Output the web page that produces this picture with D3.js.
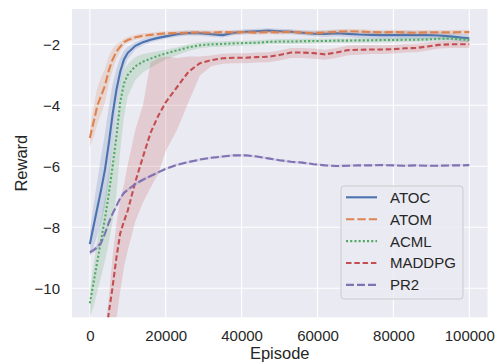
<!DOCTYPE html>
<html>
<head>
<meta charset="utf-8">
<script src="https://cdn.jsdelivr.net/npm/d3@7"></script>
<style>
  body { margin: 0; background: #fff; }
  text { font-family: "Liberation Sans", Arial, sans-serif; fill: #262626; }
</style>
</head>
<body>
<div id="chart"></div>
<script>
// episodes shared by every run
var episodes = [0,1000,2000,3000,4000,5000,6000,7000,8000,9000,10000,12000,14000,16000,18000,20000,
  23000,26000,29000,32000,35000,38000,41000,44000,47000,50000,53000,56000,59000,62000,65000,68000,
  71000,74000,77000,80000,83000,86000,89000,92000,95000,98000,100000];

var atoc = [-8.55,-7.95,-7.35,-6.75,-6.1,-5.25,-4.3,-3.5,-2.9,-2.5,-2.28,-2.05,-1.93,-1.85,-1.79,-1.74,
  -1.67,-1.63,-1.64,-1.67,-1.70,-1.62,-1.59,-1.57,-1.55,-1.57,-1.59,-1.62,-1.65,-1.66,-1.64,-1.66,
  -1.68,-1.69,-1.70,-1.70,-1.69,-1.70,-1.70,-1.71,-1.74,-1.78,-1.80];
var atocUp = [0.4,0.7,0.9,1.1,1.2,1.2,1.0,0.7,0.45,0.3,0.2,0.12,0.1,0.09,0.08,0.08,
  0.08,0.08,0.08,0.08,0.08,0.08,0.08,0.08,0.08,0.08,0.08,0.08,0.09,0.1,0.1,0.1,
  0.11,0.12,0.12,0.13,0.13,0.13,0.13,0.12,0.12,0.12,0.12];

var atom = [-5.07,-4.55,-4.0,-3.68,-3.35,-2.85,-2.5,-2.24,-2.08,-1.93,-1.86,-1.77,-1.72,-1.69,-1.66,-1.64,
  -1.63,-1.62,-1.61,-1.62,-1.60,-1.61,-1.60,-1.62,-1.60,-1.61,-1.59,-1.62,-1.63,-1.61,-1.59,-1.57,
  -1.58,-1.60,-1.61,-1.60,-1.61,-1.62,-1.61,-1.61,-1.61,-1.60,-1.60];
var atomUp = [0.3,0.5,0.6,0.6,0.55,0.45,0.35,0.25,0.15,0.12,0.1,0.08,0.08,0.07,0.07,0.07,
  0.07,0.07,0.07,0.07,0.07,0.07,0.07,0.07,0.07,0.07,0.07,0.07,0.07,0.08,0.08,0.08,
  0.08,0.08,0.08,0.08,0.08,0.08,0.08,0.08,0.08,0.08,0.08];

var acml = [-10.49,-9.8,-9.1,-8.4,-7.7,-6.9,-6.0,-5.03,-3.9,-3.28,-3.0,-2.72,-2.57,-2.47,-2.38,-2.30,
  -2.2,-2.1,-2.03,-2.0,-1.99,-1.97,-1.96,-1.95,-1.92,-1.91,-1.91,-1.90,-1.89,-1.89,-1.88,-1.88,
  -1.87,-1.87,-1.86,-1.86,-1.85,-1.85,-1.84,-1.82,-1.81,-1.84,-1.86];
var acmlUp = [0.4,0.6,0.7,0.7,0.7,0.7,0.7,0.7,0.6,0.45,0.35,0.3,0.25,0.2,0.15,0.12,
  0.1,0.1,0.1,0.09,0.09,0.09,0.08,0.08,0.08,0.08,0.08,0.08,0.08,0.07,0.07,0.07,
  0.07,0.07,0.07,0.07,0.07,0.07,0.07,0.07,0.07,0.07,0.07];
var acmlDown = [0.45,0.8,1.0,1.2,1.4,1.6,1.8,1.9,1.6,1.1,0.7,0.45,0.35,0.3,0.25,0.2,
  0.15,0.12,0.1,0.09,0.09,0.09,0.08,0.08,0.08,0.08,0.08,0.08,0.08,0.07,0.07,0.07,
  0.07,0.07,0.07,0.07,0.07,0.07,0.07,0.07,0.07,0.07,0.07];

var maddpg = [-15.3,-14.4,-13.5,-12.6,-11.7,-10.8,-9.95,-9.0,-8.2,-7.8,-7.45,-6.5,-5.69,-4.9,-4.35,-3.9,
  -3.4,-2.9,-2.62,-2.52,-2.46,-2.44,-2.44,-2.42,-2.41,-2.35,-2.27,-2.27,-2.29,-2.33,-2.27,-2.19,
  -2.18,-2.17,-2.17,-2.16,-2.13,-2.12,-2.07,-2.02,-2.0,-2.0,-2.0];
var maddpgUp = [0.2,0.2,0.2,0.2,0.2,0.5,1.0,1.1,1.1,1.2,1.5,1.7,1.7,2.3,1.9,1.5,
  0.95,0.5,0.22,0.15,0.15,0.15,0.15,0.15,0.15,0.15,0.15,0.15,0.15,0.15,0.15,0.15,
  0.15,0.15,0.14,0.14,0.14,0.14,0.13,0.12,0.12,0.12,0.12];
var maddpgDown = [2.0,2.0,2.0,2.0,2.0,2.0,2.0,2.0,1.9,1.5,1.3,1.3,1.5,1.8,1.9,1.6,
  1.4,1.0,0.4,0.2,0.18,0.18,0.18,0.18,0.18,0.18,0.18,0.18,0.18,0.18,0.18,0.17,
  0.16,0.15,0.15,0.14,0.14,0.14,0.13,0.12,0.12,0.12,0.12];

var pr2 = [-8.82,-8.75,-8.65,-8.5,-8.2,-7.85,-7.55,-7.3,-7.05,-6.87,-6.77,-6.58,-6.44,-6.32,-6.2,-6.08,
  -5.95,-5.86,-5.78,-5.72,-5.68,-5.64,-5.64,-5.68,-5.74,-5.8,-5.85,-5.88,-5.93,-5.97,-5.99,-5.98,
  -5.97,-5.97,-5.96,-5.97,-5.98,-5.97,-5.98,-5.98,-5.97,-5.97,-5.96];
var pr2Up = [0.08,0.08,0.08,0.08,0.07,0.07,0.06,0.06,0.05,0.05,0.05,0.05,0.05,0.04,0.04,0.04,
  0.04,0.04,0.04,0.04,0.04,0.04,0.04,0.04,0.04,0.04,0.04,0.04,0.04,0.04,0.04,0.04,
  0.04,0.04,0.04,0.04,0.04,0.04,0.04,0.04,0.04,0.04,0.04];

var names = ["ATOC", "ATOM", "ACML", "MADDPG", "PR2"];
var xTicks = [0, 20000, 40000, 60000, 80000, 100000];
var yTicks = [-10, -8, -6, -4, -2];

var series = [
  {name: names[0], v: atoc, up: atocUp, down: atocUp, color: "#4c72b0", dash: null},
  {name: names[1], v: atom, up: atomUp, down: atomUp, color: "#dd8452", dash: "8.3,3.1"},
  {name: names[2], v: acml, up: acmlUp, down: acmlDown, color: "#55a868", dash: "2.1,2.1"},
  {name: names[3], v: maddpg, up: maddpgUp, down: maddpgDown, color: "#c44e52", dash: "5.5,2.8"},
  {name: names[4], v: pr2, up: pr2Up, down: pr2Up, color: "#8172b3", dash: "8,3"}
];

var W = 501, H = 364;
var plotL = 72, plotR = 487.5, plotT = 9, plotB = 317.3;

var svg = d3.select("#chart").append("svg")
  .attr("width", W).attr("height", H);

var x = d3.scaleLinear().domain([-4700, 104800]).range([plotL, plotR]);
var y = d3.scaleLinear().domain([-10.95, -0.843]).range([plotB, plotT]);

svg.append("rect")
  .attr("x", plotL).attr("y", plotT)
  .attr("width", plotR - plotL).attr("height", plotB - plotT)
  .attr("fill", "#eaeaf2");

svg.append("clipPath").attr("id", "clip")
  .append("rect")
  .attr("x", plotL).attr("y", plotT)
  .attr("width", plotR - plotL).attr("height", plotB - plotT);

// grid
svg.append("g").selectAll("line").data(xTicks).enter().append("line")
  .attr("x1", d => x(d)).attr("x2", d => x(d))
  .attr("y1", plotT).attr("y2", plotB)
  .attr("stroke", "#fff").attr("stroke-width", 1.1);
svg.append("g").selectAll("line").data(yTicks).enter().append("line")
  .attr("y1", d => y(d)).attr("y2", d => y(d))
  .attr("x1", plotL).attr("x2", plotR)
  .attr("stroke", "#fff").attr("stroke-width", 1.1);

// axes (labels only)
var xAxis = svg.append("g")
  .attr("transform", "translate(0," + plotB + ")")
  .call(d3.axisBottom(x).tickValues(xTicks).tickSize(0).tickPadding(13.5).tickFormat(d3.format("d")));
var yAxis = svg.append("g")
  .attr("transform", "translate(" + plotL + ",0)")
  .call(d3.axisLeft(y).tickValues(yTicks).tickSize(0).tickPadding(12).tickFormat(d => "\u2212" + Math.abs(d)));
[xAxis, yAxis].forEach(function(a) {
  a.select(".domain").remove();
  a.selectAll("text").attr("font-size", "15px").attr("fill", "#262626")
    .attr("font-family", "Liberation Sans, Arial, sans-serif");
});

// bands and lines
var plot = svg.append("g").attr("clip-path", "url(#clip)");

series.forEach(function(s) {
  var pts = episodes.map(function(e, i) {
    return {e: e, m: s.v[i], lo: s.v[i] - s.down[i], hi: s.v[i] + s.up[i]};
  });
  var line = d3.line().x(d => x(d.e)).y(d => y(d.m));
  var area = d3.area().x(d => x(d.e)).y0(d => y(d.lo)).y1(d => y(d.hi));

  plot.append("path").datum(pts)
    .attr("d", line)
    .attr("fill", "none")
    .attr("stroke", s.color)
    .attr("stroke-width", 2.1)
    .attr("stroke-dasharray", s.dash);
  plot.append("path").datum(pts)
    .attr("d", area)
    .attr("fill", s.color)
    .attr("fill-opacity", 0.2);
});

// axis titles
svg.append("text")
  .attr("x", (plotL + plotR) / 2).attr("y", 358.5)
  .attr("text-anchor", "middle").attr("font-size", "16.5px")
  .text("Episode");
svg.append("text")
  .attr("transform", "translate(26.5," + ((plotT + plotB) / 2) + ") rotate(-90)")
  .attr("text-anchor", "middle").attr("font-size", "16.5px")
  .text("Reward");

// legend
var lg = svg.append("g").attr("transform", "translate(341,186)");
lg.append("rect")
  .attr("width", 122).attr("height", 113)
  .attr("rx", 3)
  .attr("fill", "#eaeaf2").attr("fill-opacity", 0.8)
  .attr("stroke", "#cccccc").attr("stroke-width", 1);
var items = lg.selectAll(".item").data(series).enter().append("g")
  .attr("class", "item")
  .attr("transform", (d, i) => "translate(0," + (11.3 + i * 21.9) + ")");
items.append("line")
  .attr("x1", 5).attr("x2", 36)
  .attr("stroke", d => d.color).attr("stroke-width", 2.1)
  .attr("stroke-dasharray", d => d.dash);
items.append("text")
  .attr("x", 49).attr("dy", "0.36em")
  .attr("font-size", "15px")
  .text(d => d.name);
</script>
</body>
</html>
